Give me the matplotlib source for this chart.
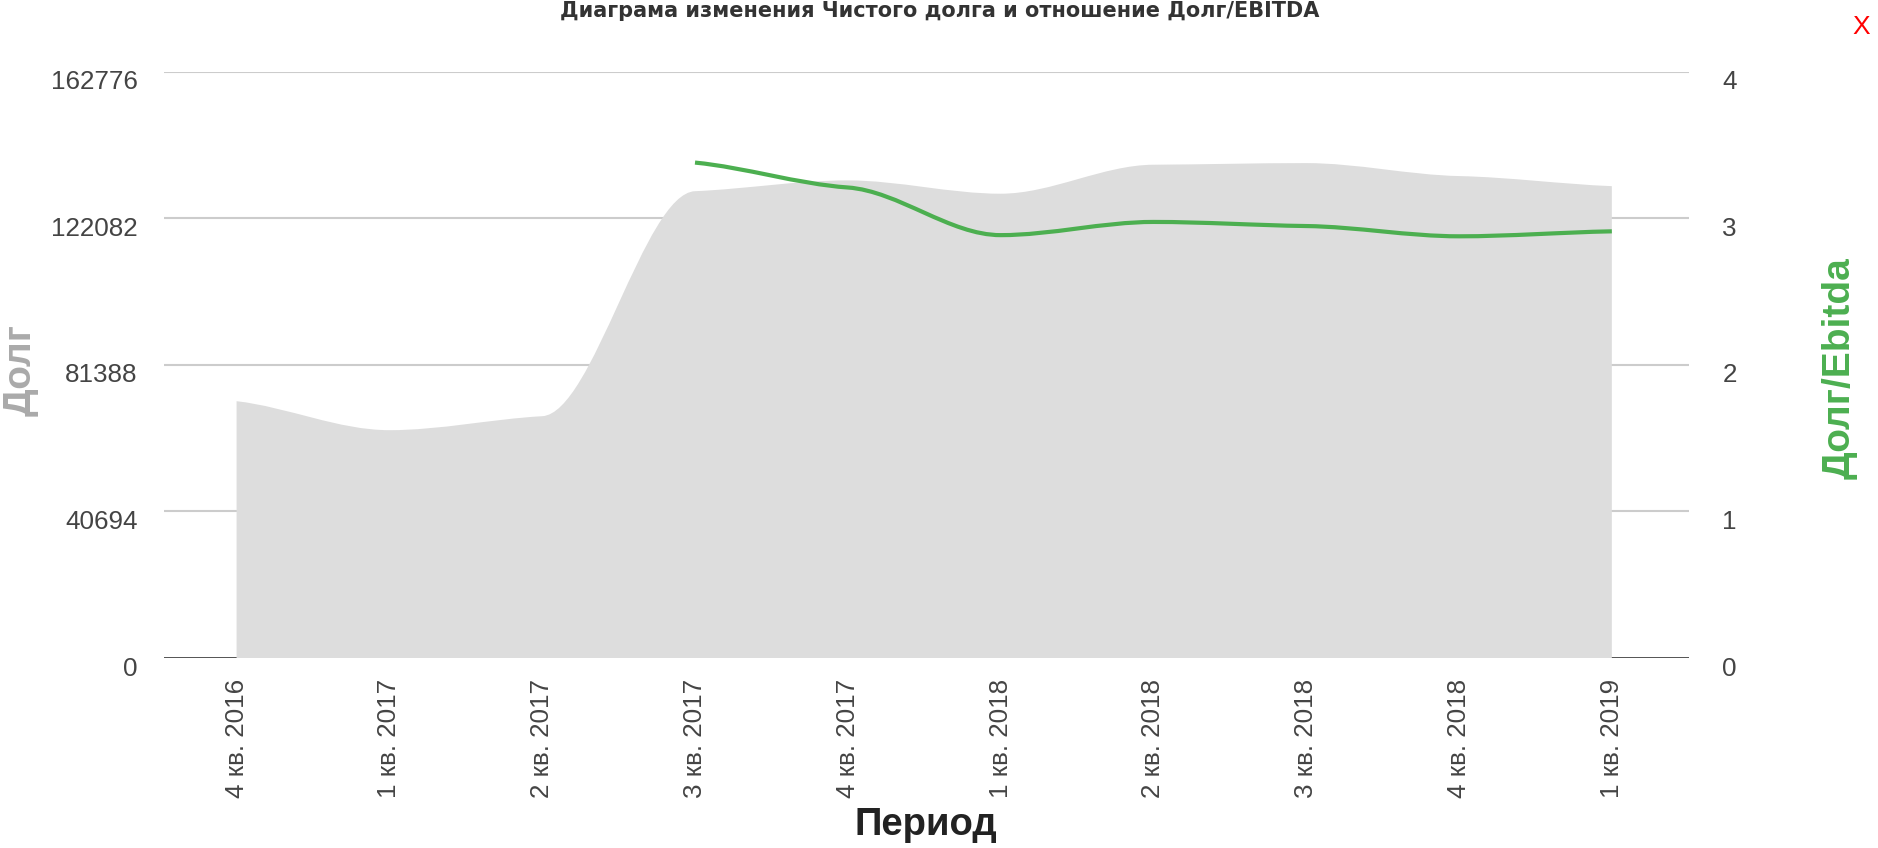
import numpy as np
import matplotlib
matplotlib.use("Agg")
import matplotlib.pyplot as plt
from matplotlib.path import Path
from matplotlib.patches import PathPatch
from matplotlib.transforms import ScaledTranslation

periods = ["4 кв. 2016", "1 кв. 2017", "2 кв. 2017", "3 кв. 2017", "4 кв. 2017",
           "1 кв. 2018", "2 кв. 2018", "3 кв. 2018", "4 кв. 2018", "1 кв. 2019"]
debt = [71300, 63250, 67130, 129600, 132600, 128900, 136950, 137400, 133800, 131000]
debt_ebitda = [np.nan, np.nan, np.nan, 3.38, 3.21, 2.885, 2.975, 2.947, 2.877, 2.911]
left_ticks = [0, 40694, 81388, 122082, 162776]
right_ticks = [0, 1, 2, 3, 4]

W, H = 1878, 848


def smooth_path(x, y, close_to=None, k=0.3, k_end=0.6):
    # monotone cubic, flattened at the points, as bezier segments
    x = np.asarray(x, float)
    y = np.asarray(y, float)
    h = np.diff(x)
    s = np.diff(y) / h
    m = np.zeros(len(x))
    for i in range(1, len(x) - 1):
        s0, s1 = s[i - 1], s[i]
        p = (s0 * h[i] + s1 * h[i - 1]) / (h[i - 1] + h[i])
        m[i] = k * (np.sign(s0) + np.sign(s1)) * min(abs(s0), abs(s1), 0.5 * abs(p))
    m[0] = k_end * s[0]
    m[-1] = k_end * s[-1]
    verts, codes = [], []
    if close_to is not None:
        verts += [(x[0], close_to), (x[0], y[0])]
        codes += [Path.MOVETO, Path.LINETO]
    else:
        verts.append((x[0], y[0]))
        codes.append(Path.MOVETO)
    for i in range(len(x) - 1):
        d = h[i] / 3
        verts += [(x[i] + d, y[i] + m[i] * d), (x[i + 1] - d, y[i + 1] - m[i + 1] * d), (x[i + 1], y[i + 1])]
        codes += [Path.CURVE4] * 3
    if close_to is not None:
        verts += [(x[-1], close_to), (x[0], close_to)]
        codes += [Path.LINETO, Path.CLOSEPOLY]
    return Path(verts, codes)


fig = plt.figure(figsize=(W / 100, H / 100), dpi=100)
ax = fig.add_axes([164 / W, 1 - 658 / H, 1525 / W, (658 - 71.7) / H])
ax2 = ax.twinx()

xs = np.arange(len(periods))
ax.set_xlim(-0.475, 9.505)
ax.set_ylim(0, left_ticks[-1])
ax2.set_ylim(0, right_ticks[-1])

for v in left_ticks[1:]:
    ax.axhline(v, color="#cccccc", lw=1.5, zorder=1)
ax.axhline(0, color="#444444", lw=2, zorder=1.5)

ax.add_patch(PathPatch(smooth_path(xs, debt, close_to=0), facecolor="#dddddd",
                       edgecolor="none", zorder=2))

ok = ~np.isnan(debt_ebitda)
ax2.add_patch(PathPatch(smooth_path(xs[ok], np.array(debt_ebitda)[ok]), facecolor="none",
                        edgecolor="#4caf50", lw=3, zorder=3, capstyle="butt"))

for a in (ax, ax2):
    for sp in a.spines.values():
        sp.set_visible(False)
    a.tick_params(length=0, labelsize=18.7, labelcolor="#444444")

ax.set_xticks(xs)
ax.set_xticklabels(periods, rotation=90, va="top", ha="center")
ax.tick_params(axis="x", pad=15)
ax.set_yticks(left_ticks)
ax.set_yticklabels([str(v) for v in left_ticks])
ax.tick_params(axis="y", pad=19)
ax2.set_yticks(right_ticks)
ax2.set_yticklabels([str(v) for v in right_ticks])
ax2.tick_params(axis="y", pad=24)

off = ScaledTranslation(0, -8 / 100, fig.dpi_scale_trans)
for lab in ax.get_yticklabels() + ax2.get_yticklabels():
    lab.set_transform(lab.get_transform() + off)

fig.text(940 / W, 1 - 17 / H, "Диаграма изменения Чистого долга и отношение Долг/EBITDA",
         ha="center", va="baseline", fontsize=15, fontweight="bold", color="#333333",
         family="DejaVu Sans")
fig.text(1861.5 / W, 1 - 27 / H, "X", ha="center", va="center", fontsize=19,
         color="#ff0000", family="Liberation Sans")
fig.text(926 / W, 1 - 835 / H, "Период", ha="center", va="baseline", fontsize=27.5,
         fontweight="bold", color="#222222", family="Liberation Sans")
fig.text(21 / W, 1 - 370 / H, "Долг", ha="center", va="center", rotation=90, fontsize=28,
         fontweight="bold", color="#aaaaaa", family="Liberation Sans")
fig.text(1840 / W, 1 - 368 / H, "Долг/Ebitda", ha="center", va="center", rotation=90,
         fontsize=28, fontweight="bold", color="#4caf50", family="Liberation Sans")

for lab in ax.get_xticklabels() + ax.get_yticklabels() + ax2.get_yticklabels():
    lab.set_family("Liberation Sans")

fig.savefig("out.png", dpi=100)
